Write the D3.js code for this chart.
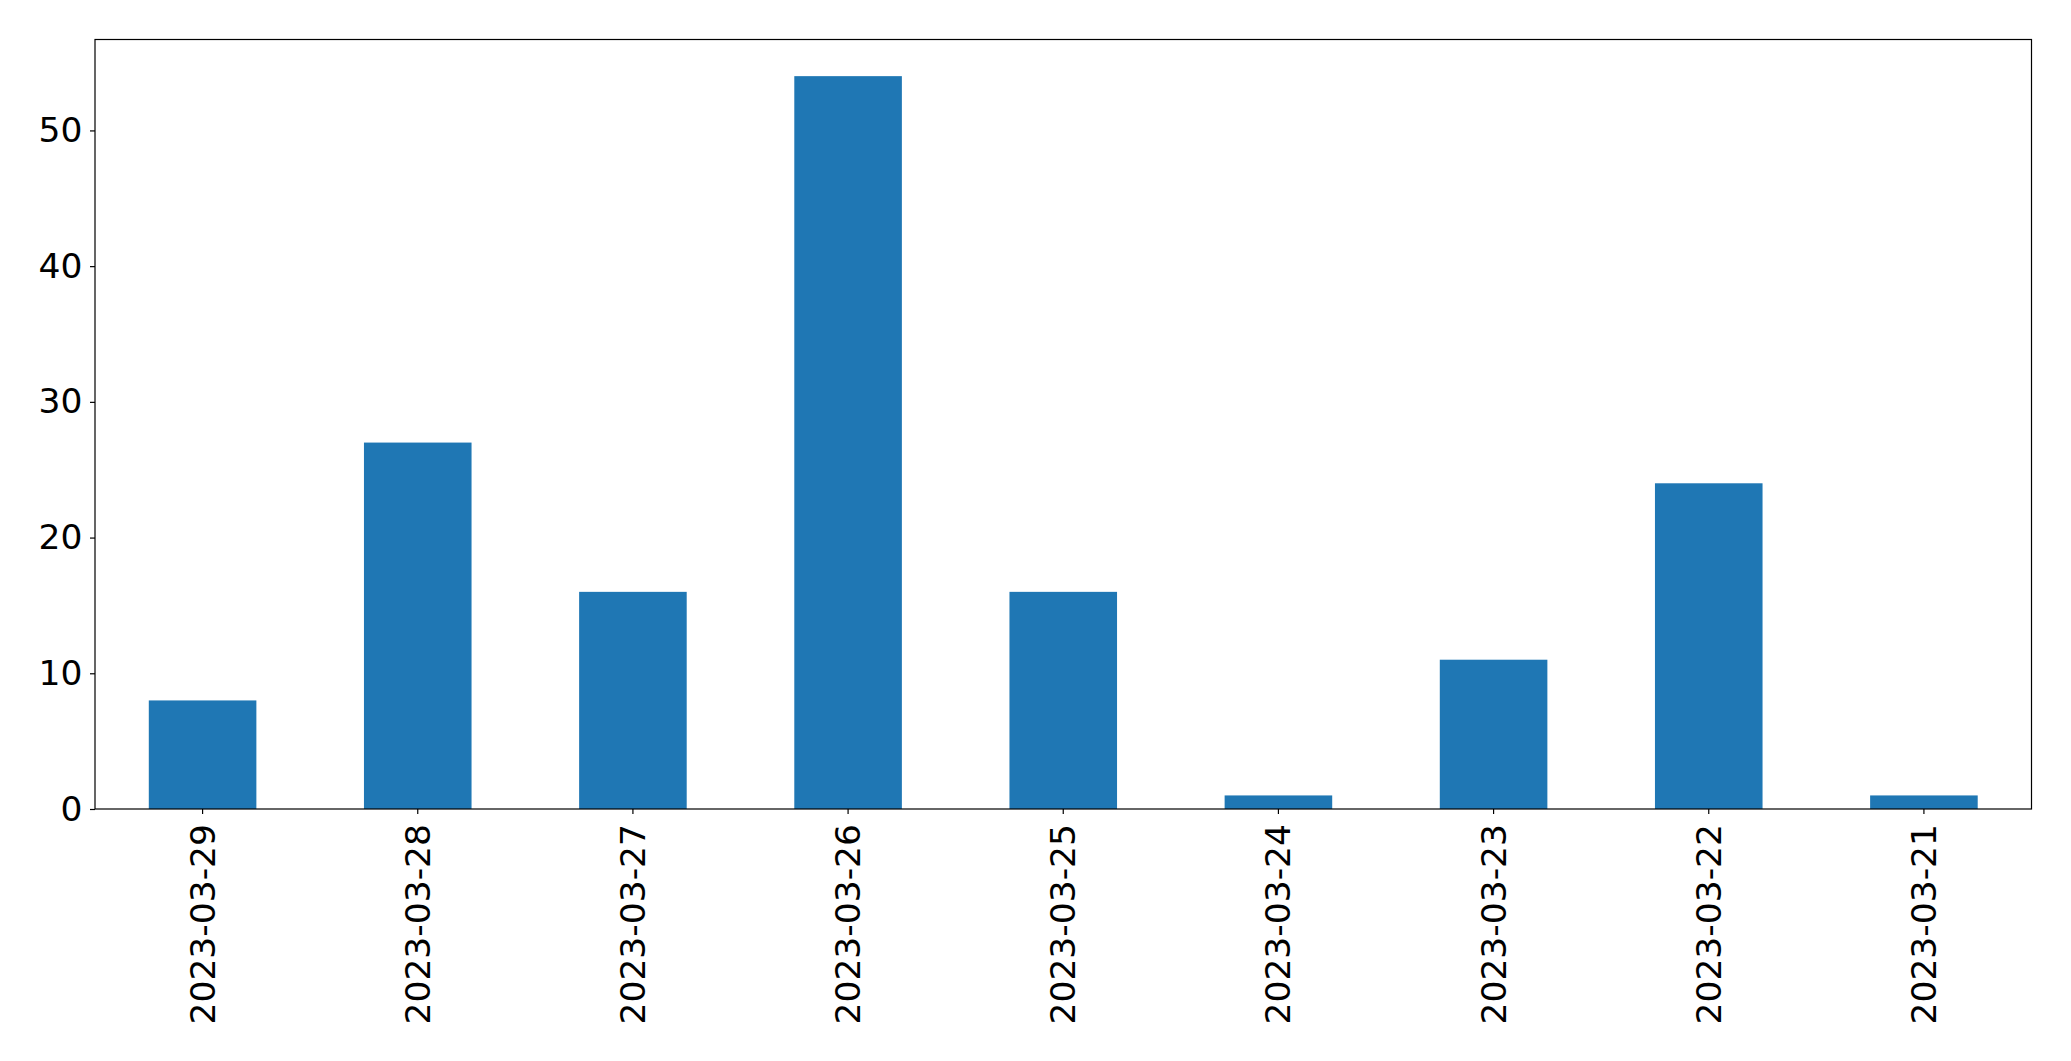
<!DOCTYPE html>
<html>
<head>
<meta charset="utf-8">
<script src="https://cdn.jsdelivr.net/npm/d3@7/dist/d3.min.js"></script>
<style>
  html, body { margin: 0; padding: 0; background: #fff; }
  svg { display: block; }
  text { font-family: "DejaVu Sans", sans-serif; fill: #000; }
</style>
</head>
<body>
<svg id="chart" width="2071" height="1061"></svg>
<script>
const categories = ["2023-03-29","2023-03-28","2023-03-27","2023-03-26","2023-03-25","2023-03-24","2023-03-23","2023-03-22","2023-03-21"];
const values = [8, 27, 16, 54, 16, 1, 11, 24, 1];
const yTicks = [0, 10, 20, 30, 40, 50];

const W = 2071, H = 1061;
const m = { left: 95, right: 2071 - 2031.5, top: 39.5, bottom: 1061 - 809 };
const iw = W - m.left - m.right, ih = H - m.top - m.bottom;
const svg = d3.select("#chart");
const g = svg.append("g").attr("transform", `translate(${m.left},${m.top})`);

const x = d3.scaleBand().domain(categories).range([0, iw]).paddingInner(0.5).paddingOuter(0.25);
const y = d3.scaleLinear().domain([0, d3.max(values) * 1.05]).range([ih, 0]);

g.selectAll("rect.bar").data(values).enter().append("rect")
  .attr("class", "bar")
  .attr("x", (d, i) => x(categories[i]))
  .attr("width", x.bandwidth())
  .attr("y", d => y(d))
  .attr("height", d => ih - y(d))
  .attr("fill", "#1f77b4");

const fs = 34.5;
const yAxis = g.append("g").call(d3.axisLeft(y).tickValues(yTicks).tickSize(5).tickPadding(7.5));
yAxis.select(".domain").remove();
yAxis.selectAll("line").attr("stroke", "#000").attr("stroke-width", 1.2);
yAxis.selectAll("text").style("font-size", fs + "px").style("font-family", "DejaVu Sans").attr("fill", "#000");

const xAxis = g.append("g").attr("transform", `translate(0,${ih})`)
  .call(d3.axisBottom(x).tickSize(5).tickPadding(0));
xAxis.select(".domain").remove();
xAxis.selectAll("line").attr("stroke", "#000").attr("stroke-width", 1.2);
xAxis.selectAll("text")
  .style("font-size", fs + "px").style("font-family", "DejaVu Sans").attr("fill", "#000")
  .attr("text-anchor", "end")
  .attr("dy", "0.35em")
  .attr("y", 0)
  .attr("x", 0)
  .attr("transform", "translate(0,15) rotate(-90)");

g.append("rect").attr("x", 0).attr("y", 0).attr("width", iw).attr("height", ih)
  .attr("fill", "none").attr("stroke", "#000").attr("stroke-width", 1.2);
</script>
</body>
</html>
